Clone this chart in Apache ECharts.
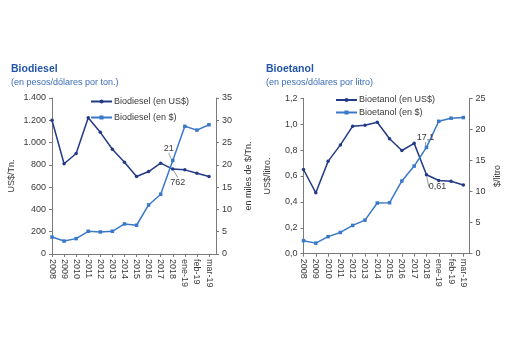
<!DOCTYPE html>
<html>
<head>
<meta charset="utf-8">
<script src="https://cdn.jsdelivr.net/npm/echarts@6/dist/echarts.min.js"></script>
<style>
  html, body { margin: 0; padding: 0; background: #fff; }
  #chart { width: 512px; height: 341px; }
</style>
</head>
<body>
<div id="chart"></div>
<script>
// Periods shown on both horizontal axes
const periods = ['2008','2009','2010','2011','2012','2013','2014','2015','2016','2017','2018','ene-19','feb-19','mar-19'];

// Biodiesel: US$ per ton (left axis) and thousands of $ per ton (right axis)
const biodieselUsd = [1200, 810, 902, 1222, 1092, 940, 824, 695, 740, 815, 762, 755, 725, 695];
const biodieselArs = [3.8, 2.9, 3.45, 5.1, 4.95, 5.1, 6.75, 6.45, 11.0, 13.4, 21, 28.65, 27.8, 29.0];

// Bioetanol: US$ per litre (left axis) and $ per litre (right axis)
const bioetanolUsd = [0.65, 0.47, 0.713, 0.84, 0.985, 0.992, 1.015, 0.888, 0.797, 0.852, 0.61, 0.565, 0.56, 0.53];
const bioetanolArs = [2.1, 1.7, 2.75, 3.42, 4.55, 5.4, 8.15, 8.2, 11.7, 14.1, 17.1, 21.3, 21.8, 21.9];

// Index of the period whose values are annotated
const labelIdx = 10;

const navy = '#233A86';
const blue = '#3A78C9';
const axisColor = '#7a7a7a';
const textColor = '#383838';
const font = 'Liberation Sans, Arial, sans-serif';

const toPairs = arr => arr.map((v, i) => [i, v]);
const periodTicks = periods.map((_, i) => i);

function xAxisFor(gridIndex, max) {
  return {
    type: 'value', gridIndex, min: 0, max, interval: 1,
    splitLine: { show: false },
    axisLine: { lineStyle: { color: axisColor } },
    axisTick: { length: 3, customValues: periodTicks, lineStyle: { color: axisColor } },
    axisLabel: {
      rotate: -90, fontSize: 9, color: textColor, fontFamily: font, margin: 5,
      customValues: periodTicks,
      formatter: v => Number.isInteger(v) && periods[v] ? periods[v] : ''
    }
  };
}

function yAxisFor(gridIndex, position, max, interval, name, nameGap, fmt) {
  return {
    type: 'value', gridIndex, position, min: 0, max, interval,
    name, nameLocation: 'middle', nameGap, nameRotate: 90,
    nameTextStyle: { fontSize: 9, color: textColor, fontFamily: font },
    splitLine: { show: false },
    axisLine: { show: true, lineStyle: { color: axisColor } },
    axisTick: { show: true, length: 3, lineStyle: { color: axisColor } },
    axisLabel: { fontSize: 9, color: textColor, fontFamily: font, margin: 6, formatter: fmt }
  };
}

function lineSeries(name, data, xi, yi, color, symbol, labelFmt, dx, dy) {
  return {
    type: 'line', name, xAxisIndex: xi, yAxisIndex: yi,
    data: toPairs(data).map((p, i) => i === labelIdx ? {
      value: p,
      label: { show: true, position: 'inside', formatter: labelFmt,
               fontSize: 9, color: textColor, fontFamily: font },
      labelLine: { show: true, lineStyle: { color: '#9a9a9a', width: 1 } }
    } : p),
    labelLayout: params => params.dataIndex === labelIdx ? { dx, dy } : {},
    symbol, symbolSize: 3.5, showSymbol: true,
    lineStyle: { color, width: 1.5 },
    itemStyle: { color },
    animation: false
  };
}

const thousands = v => v >= 1000 ? String(v).replace(/(\d)(?=(\d{3})+$)/, '$1.') : String(v);
const decComma = v => v.toFixed(1).replace('.', ',');

function legendAt(name, left, top) {
  return {
    data: [name], left, top, orient: 'vertical',
    itemWidth: 21, itemHeight: 5, itemGap: 0,
    textStyle: { fontSize: 9, color: textColor, fontFamily: font, padding: [0, 0, 0, -3] },
    padding: 0
  };
}

const chart = echarts.init(document.getElementById('chart'), null, { renderer: 'canvas' });
chart.setOption({
  backgroundColor: '#fff',
  animation: false,
  title: [
    { text: 'Biodiesel', subtext: '(en pesos/dólares por ton.)', left: 11, top: 64, itemGap: 3, padding: 0,
      textStyle: { fontSize: 10.5, fontWeight: 'bold', color: '#2356A8', fontFamily: font },
      subtextStyle: { fontSize: 9, color: '#3B6DB8', fontFamily: font } },
    { text: 'Bioetanol', subtext: '(en pesos/dólares por litro)', left: 266, top: 64, itemGap: 3, padding: 0,
      textStyle: { fontSize: 10.5, fontWeight: 'bold', color: '#2356A8', fontFamily: font },
      subtextStyle: { fontSize: 9, color: '#3B6DB8', fontFamily: font } }
  ],
  legend: [
    legendAt('Biodiesel (en US$)', 90, 97),
    legendAt('Biodiesel (en $)', 90, 113),
    legendAt('Bioetanol (en US$)', 335, 95.5),
    legendAt('Bioetanol (en $)', 335, 108)
  ],
  grid: [
    { left: 52, top: 98, width: 164, height: 156 },
    { left: 303.5, top: 98.3, width: 166, height: 155.4 }
  ],
  xAxis: [xAxisFor(0, 13.58), xAxisFor(1, 13.5)],
  yAxis: [
    yAxisFor(0, 'left', 1400, 200, 'US$/Tn.', 36, thousands),
    yAxisFor(0, 'right', 35, 5, 'en miles de $/Tn.', 28, v => String(v)),
    yAxisFor(1, 'left', 1.2, 0.2, 'US$/litro.', 31, decComma),
    yAxisFor(1, 'right', 25, 5, '$/litro', 24, v => String(v))
  ],
  series: [
    lineSeries('Biodiesel (en US$)', biodieselUsd, 0, 0, navy, 'circle', p => String(p.value[1]), 5, 13),
    lineSeries('Biodiesel (en $)', biodieselArs, 0, 1, blue, 'rect', p => String(Math.round(p.value[1])), -4, -12),
    lineSeries('Bioetanol (en US$)', bioetanolUsd, 1, 2, navy, 'circle', p => p.value[1].toFixed(2).replace('.', ','), 11, 12),
    lineSeries('Bioetanol (en $)', bioetanolArs, 1, 3, blue, 'rect', p => p.value[1].toFixed(1).replace('.', ','), -1, -10)
  ]
});
</script>
</body>
</html>
